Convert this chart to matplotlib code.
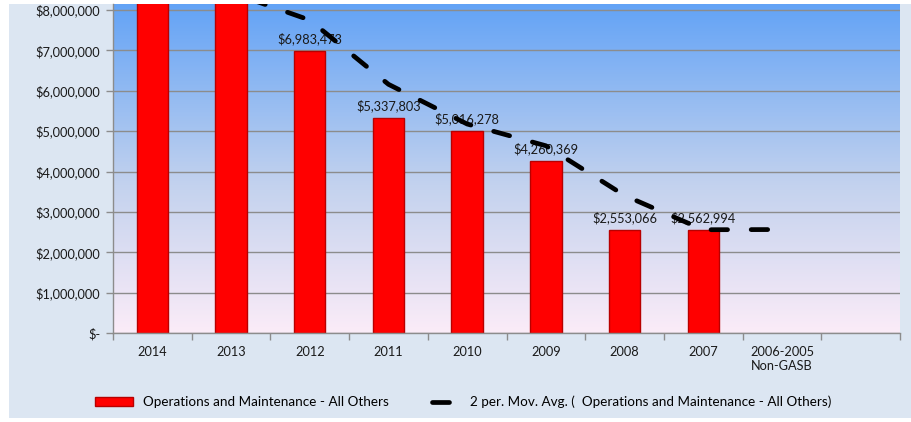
import numpy as np
import pandas as pd
import matplotlib
matplotlib.use("Agg")
import matplotlib.pyplot as plt
from matplotlib.colors import LinearSegmentedColormap
from matplotlib.legend_handler import HandlerBase
from matplotlib.lines import Line2D
from matplotlib.ticker import FuncFormatter

# fiscal years, newest first
years = ["2014", "2013", "2012", "2011", "2010", "2009", "2008", "2007", "2006-2005\nNon-GASB", ""]
om_other = [8350000, 8520000, 6983473, 5337803, 5016278, 4260369, 2553066, 2562994, np.nan, np.nan]

series = pd.Series(om_other)
# 2-period moving average, starts at the second period
mov_avg = series.rolling(2, min_periods=1).mean()
mov_avg[0] = np.nan
mov_avg[9] = np.nan


class ShortDash(HandlerBase):
    # legend key drawn as a single short dash in the middle of the handle box
    def create_artists(self, legend, orig, xdescent, ydescent, width, height, fontsize, trans):
        y = height / 2 - ydescent
        x0 = -xdescent
        ln = Line2D([x0 + width * 0.28, x0 + width * 0.72], [y, y], color=orig.get_color(),
                    linewidth=orig.get_linewidth(), solid_capstyle="round", transform=trans)
        return [ln]


plt.rcParams['font.family'] = ['Lato', 'DejaVu Sans']
fs = 9.2

fig = plt.figure(figsize=(9.11, 4.22), dpi=100)
fig.patch.set_facecolor("white")
# light blue panel behind the chart
fig.add_artist(plt.Rectangle((9/911, 4/422), 902/911, 414/422, transform=fig.transFigure,
                             facecolor="#dce6f2", edgecolor="none", zorder=-10))

ax = fig.add_axes([113/911, 89/422, 787/911, 329/422])
ax.set_facecolor("none")

# vertical gradient for the plot area
cmap = LinearSegmentedColormap.from_list("bg", [(0.0, "#fbecf8"), (0.45, "#c3d2ee"), (1.0, "#63a3f6")])
grad = np.linspace(0, 1, 256).reshape(-1, 1)
ax.imshow(grad, cmap=cmap, origin="lower", aspect="auto", extent=[0, 1, 0, 1],
          transform=ax.transAxes, zorder=0)

x = np.arange(len(years))
ymax = 8150000
ax.set_xlim(-0.5, len(years) - 0.5)
ax.set_ylim(0, ymax)

ax.yaxis.grid(True, color="#8c8c8c", linewidth=1.0, zorder=1)
ax.set_axisbelow(True)

has_val = series.notna().values
bars = ax.bar(x[has_val], series[has_val].values, width=0.4, color="#ff0000", edgecolor="#b80000",
              linewidth=1.0, zorder=2, label="Operations and Maintenance - All Others")

for xi, v in zip(x, om_other):
    if not np.isnan(v) and v < ymax:
        ax.annotate("${:,.0f}".format(v), (xi, v), xytext=(0, 4), textcoords="offset points",
                    ha="center", va="bottom", fontsize=fs, color="#1a1a1a", zorder=3)

ma_line, = ax.plot(x, mov_avg.values, color="black", linewidth=3.4, linestyle=(0, (3.5, 5.0)),
                   dash_capstyle="round", zorder=4,
                   label="2 per. Mov. Avg. (  Operations and Maintenance - All Others)")

ax.set_yticks(np.arange(0, 8000001, 1000000))
ax.yaxis.set_major_formatter(FuncFormatter(lambda v, p: "$-" if v == 0 else "${:,.0f}".format(v)))
ax.set_xticks(x)
ax.set_xticklabels(years)
ax.set_xticks(np.arange(-0.5, len(years)), minor=True)
ax.tick_params(axis="x", which="major", length=0, pad=9, labelsize=fs, labelcolor="#1a1a1a")
ax.tick_params(axis="x", which="minor", length=5, color="#8c8c8c", width=1)
ax.tick_params(axis="y", length=5, color="#8c8c8c", width=1, labelsize=fs, labelcolor="#1a1a1a", pad=4)

for s in ["top", "right"]:
    ax.spines[s].set_visible(False)
for s in ["left", "bottom"]:
    ax.spines[s].set_color("#8c8c8c")
    ax.spines[s].set_linewidth(1)

fig.legend(handles=[bars, ma_line], handler_map={ma_line: ShortDash()},
           loc="center", bbox_to_anchor=(0.508, 0.047), ncol=2, frameon=False,
           fontsize=9.7, handlelength=2.85, handletextpad=0.75, columnspacing=2.38)

fig.savefig("out.png", dpi=100, facecolor=fig.get_facecolor())
